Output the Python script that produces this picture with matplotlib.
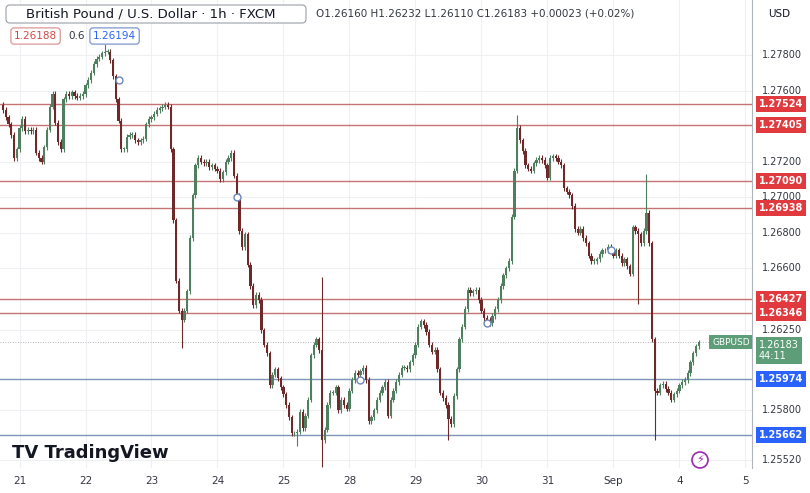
import matplotlib
matplotlib.use("Agg")
import matplotlib.pyplot as plt
from matplotlib.patches import FancyBboxPatch, Circle

plt.rcParams["font.family"] = ["DejaVu Sans"]

# hourly closes, GBPUSD, from Sun 20 Aug evening to Mon 4 Sep morning
closes = [
    1.2749, 1.2745, 1.2741, 1.2735, 1.2722, 1.2727,
    # 21
    1.2739, 1.2744, 1.2737, 1.2738, 1.2737, 1.2738, 1.2725, 1.2722, 1.2720, 1.2728, 1.2738, 1.2751,
    1.2758, 1.2742, 1.2731, 1.2727, 1.2755, 1.2758, 1.2757, 1.2759, 1.2757, 1.2756, 1.2757, 1.2758,
    # 22
    1.2763, 1.2766, 1.2770, 1.2775, 1.2778, 1.2779, 1.2781, 1.2782, 1.2782, 1.2777, 1.2768, 1.2755,
    1.2743, 1.2727, 1.2727, 1.2734, 1.2735, 1.2735, 1.2732, 1.2731, 1.2732, 1.2733, 1.2741, 1.2744,
    # 23
    1.2745, 1.2747, 1.2749, 1.2750, 1.2751, 1.2752, 1.2751, 1.2727, 1.2687, 1.2653, 1.2636, 1.2631,
    1.2636, 1.2647, 1.2677, 1.2701, 1.2718, 1.2722, 1.2720, 1.2719, 1.2720, 1.2717, 1.2718, 1.2716,
    # 24
    1.2715, 1.2710, 1.2714, 1.2720, 1.2722, 1.2725, 1.2712, 1.2701, 1.2681, 1.2672, 1.2679, 1.2662,
    1.2650, 1.2639, 1.2645, 1.2642, 1.2625, 1.2617, 1.2612, 1.2594, 1.2600, 1.2603, 1.2598, 1.2593,
    # 25
    1.2589, 1.2583, 1.2576, 1.2567, 1.2567, 1.2568, 1.2579, 1.2570, 1.2577, 1.2586, 1.2611, 1.2617,
    1.2620, 1.2614, 1.2563, 1.2569, 1.2583, 1.2590, 1.2590, 1.2593, 1.2580, 1.2586, 1.2583, 1.2581,
    # 28
    1.2591, 1.2597, 1.2601, 1.2600, 1.2602, 1.2604, 1.2597, 1.2574, 1.2576, 1.2580, 1.2586, 1.2590,
    1.2593, 1.2596, 1.2577, 1.2586, 1.2591, 1.2596, 1.2600, 1.2604, 1.2604, 1.2603, 1.2607, 1.2611,
    # 29
    1.2617, 1.2627, 1.2630, 1.2628, 1.2624, 1.2617, 1.2613, 1.2614, 1.2603, 1.2590, 1.2587, 1.2583,
    1.2575, 1.2572, 1.2588, 1.2603, 1.2620, 1.2627, 1.2637, 1.2648, 1.2646, 1.2647, 1.2648, 1.2642,
    # 30
    1.2636, 1.2632, 1.2631, 1.2629, 1.2633, 1.2637, 1.2642, 1.2650, 1.2656, 1.2660, 1.2664, 1.2689,
    1.2715, 1.2739, 1.2732, 1.2726, 1.2718, 1.2716, 1.2715, 1.2719, 1.2721, 1.2722, 1.2721, 1.2718,
    # 31
    1.2711, 1.2722, 1.2723, 1.2722, 1.2720, 1.2718, 1.2705, 1.2703, 1.2701, 1.2695, 1.2682, 1.2680,
    1.2682, 1.2677, 1.2674, 1.2667, 1.2664, 1.2664, 1.2665, 1.2668, 1.2670, 1.2670, 1.2672, 1.2670,
    # Sep 1
    1.2667, 1.2670, 1.2667, 1.2663, 1.2665, 1.2661, 1.2657, 1.2683, 1.2681, 1.2679, 1.2674, 1.2681,
    1.2691, 1.2674, 1.2620, 1.2591, 1.2590, 1.2594, 1.2595, 1.2592, 1.2590, 1.2586, 1.2589, 1.2591,
    # 4
    1.2594, 1.2596, 1.2597, 1.2601, 1.2607, 1.2612, 1.2616, 1.26183,
]
first_open = 1.2752
# long wicks: candle index -> (high, low)
wick_overrides = {
    37: (1.2786, None), 65: (None, 1.2615), 107: (None, 1.2560),
    116: (1.2655, 1.2548), 162: (None, 1.2563), 187: (1.2746, None),
    231: (None, 1.2640), 234: (1.2713, None), 237: (None, 1.2563),
}
# small circle markers on the chart (candle index, price)
event_marks = [(42, 1.2766), (85, 1.2700), (130, 1.2597), (176, 1.2629), (221, 1.2670)]

day_labels = ["21", "22", "23", "24", "25", "28", "29", "30", "31", "Sep", "4", "5"]
day_starts = [6, 30, 54, 78, 102, 126, 150, 174, 198, 222, 246, 270]

red_levels = [1.27524, 1.27405, 1.27090, 1.26938, 1.26427, 1.26346]
blue_levels = [1.25974, 1.25662]
axis_ticks = [1.27800, 1.27600, 1.27200, 1.27000, 1.26800, 1.26600, 1.26250, 1.25800, 1.25520]
last_price = 1.26183

UP, DOWN = "#4f7f5f", "#6e2a2a"
RED_LINE, BLUE_LINE = "#c67373", "#7d95bb"
GREEN_TAG = "#5d9e78"

fig = plt.figure(figsize=(8.1, 4.93), dpi=100)
ax = fig.add_axes([0, 25 / 493, 752 / 810, 468 / 493])
ax.set_xlim(-1.1, 272.4)
ax.set_ylim(1.25475, 1.28110)

for x in day_starts:
    ax.axvline(x, color="#eef0f3", lw=0.8, zorder=0)
for t in axis_ticks:
    ax.axhline(t, color="#eef0f3", lw=0.8, zorder=0)

opens = [first_open] + closes[:-1]
for i, (o, c) in enumerate(zip(opens, closes)):
    col = UP if c >= o else DOWN
    hi = max(o, c) + 0.00015
    lo = min(o, c) - 0.00015
    if i in wick_overrides:
        h2, l2 = wick_overrides[i]
        hi = h2 if h2 else hi
        lo = l2 if l2 else lo
    ax.vlines(i, lo, hi, color=col, lw=0.8, zorder=3)
    ax.bar(i, max(abs(c - o), 0.00004), bottom=min(o, c), width=0.8, color=col, zorder=4)

for i, p in event_marks:
    ax.plot(i, p, "o", ms=5, mfc="white", mec="#6f86b8", mew=1, zorder=5)

for lv in red_levels:
    ax.axhline(lv, color=RED_LINE, lw=1.0, zorder=2)
for lv in blue_levels:
    ax.axhline(lv, color=BLUE_LINE, lw=1.0, zorder=2)
ax.axhline(last_price, color="#9aa0a8", lw=0.6, ls=(0, (1, 2)), zorder=2)

ax.set_xticks([])
ax.set_yticks([])
for s in ["top", "left", "bottom"]:
    ax.spines[s].set_visible(False)
ax.spines["right"].set_color("#b0b4bb")

ytr = ax.get_yaxis_transform()
for t in axis_ticks:
    ax.text(1.013, t, f"{t:.5f}", transform=ytr, ha="left", va="center",
            fontsize=7, color="#333740")
def tag(y, txt, fc, va="center"):
    ax.text(1.009, y, txt, transform=ytr, ha="left", va=va, fontsize=7,
            color="white", fontweight="bold",
            bbox=dict(boxstyle="square,pad=0.3", fc=fc, ec="none"))
for lv in red_levels:
    tag(lv, f"{lv:.5f}", "#e0393e")
for lv in blue_levels:
    tag(lv, f"{lv:.5f}", "#2962ff")
ax.text(1.009, last_price + 0.00012, f"{last_price:.5f}\n44:11", transform=ytr, ha="left", va="top",
        fontsize=7, color="white", linespacing=1.15,
        bbox=dict(boxstyle="square,pad=0.3", fc=GREEN_TAG, ec="none"))
ax.text(0.972, last_price, "GBPUSD", transform=ytr, ha="center", va="center",
        fontsize=6.5, color="white", bbox=dict(boxstyle="square,pad=0.3", fc=GREEN_TAG, ec="none"))

for x, lab in zip(day_starts, day_labels):
    ax.text(x, -0.028, lab, transform=ax.get_xaxis_transform(), ha="center", va="center",
            fontsize=7.5, color="#333740")

# header
fig.patches.append(FancyBboxPatch((6, 470), 300, 18, boxstyle="round,pad=0,rounding_size=4",
                                  transform=None, fc="white", ec="#9aa0a8", lw=0.8))
fig.text(26 / 810, 479 / 493, "British Pound / U.S. Dollar · 1h · FXCM", fontsize=9.5,
         color="#131722", va="center")
fig.text(316 / 810, 479 / 493, "O1.26160 H1.26232 L1.26110 C1.26183 +0.00023 (+0.02%)",
         fontsize=7.5, color="#333740", va="center")
fig.text(768 / 810, 479 / 493, "USD", fontsize=7.5, color="#131722", va="center")
fig.text(14 / 810, 457 / 493, "1.26188", fontsize=7.5, color="#d04848", va="center",
         bbox=dict(boxstyle="round,pad=0.3", fc="white", ec="#e0a0a0"))
fig.text(68 / 810, 457 / 493, "0.6", fontsize=7.5, color="#333740", va="center")
fig.text(93 / 810, 457 / 493, "1.26194", fontsize=7.5, color="#2962ff", va="center",
         bbox=dict(boxstyle="round,pad=0.3", fc="white", ec="#8aa0d0"))
fig.text(12 / 810, 40 / 493, "TV TradingView", fontsize=13, fontweight="bold", color="#131722",
         va="center")
fig.patches.append(Circle((700, 33), 8, transform=None, fc="white", ec="#9c27b0", lw=1.2))
fig.text(700 / 810, 33 / 493, "⚡", fontsize=8, color="#9c27b0", ha="center", va="center")

fig.savefig("out.png", dpi=100)
